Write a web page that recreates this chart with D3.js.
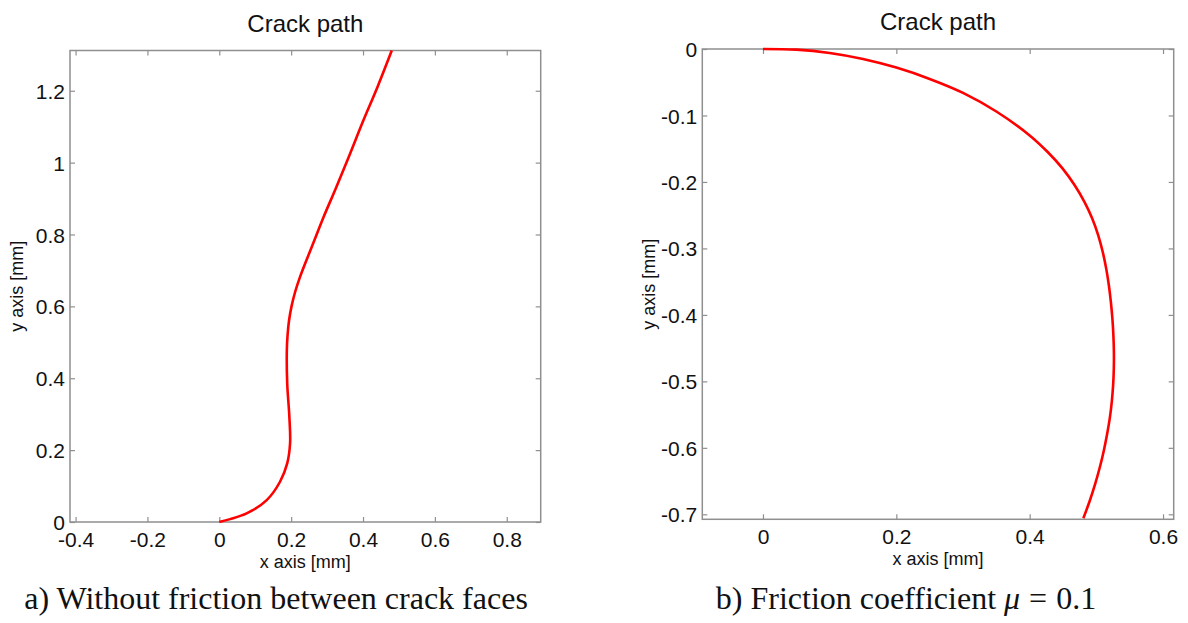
<!DOCTYPE html>
<html>
<head>
<meta charset="utf-8">
<script src="https://cdn.jsdelivr.net/npm/d3@7"></script>
<style>
  html, body { margin: 0; padding: 0; background: #fff; }
  svg { display: block; }
  .tick text { font-family: "Liberation Sans", Arial, sans-serif; fill: #111; }
</style>
</head>
<body>
<svg id="fig" width="1188" height="623"></svg>
<script>
// Crack path without friction between the crack faces (mm)
const pathAX = [0, 0.03, 0.076, 0.132, 0.169, 0.189, 0.197, 0.195, 0.189, 0.188, 0.190, 0.194, 0.201, 0.211, 0.224, 0.240, 0.260, 0.290, 0.325, 0.362, 0.400, 0.440, 0.480];
const pathAY = [0, 0.008, 0.024, 0.061, 0.112, 0.163, 0.219, 0.293, 0.386, 0.479, 0.520, 0.560, 0.600, 0.640, 0.680, 0.722, 0.772, 0.848, 0.930, 1.020, 1.115, 1.210, 1.312];

// Crack path with friction coefficient 0.1 (mm)
const pathBX = [0, 0.05, 0.10, 0.15, 0.20, 0.25, 0.30, 0.35, 0.400, 0.427, 0.4495, 0.4675, 0.4821, 0.4938, 0.5027, 0.5095, 0.5147, 0.5187, 0.5217, 0.5240, 0.5255, 0.5263,
                0.5262, 0.5252, 0.5232, 0.5202, 0.516, 0.511, 0.505, 0.498, 0.490, 0.4805];
const pathBY = [0, -0.001, -0.006, -0.015, -0.028, -0.045, -0.066, -0.094, -0.130, -0.155, -0.180, -0.205, -0.230, -0.255, -0.280, -0.305, -0.330, -0.355, -0.380, -0.405, -0.430, -0.455,
                -0.480, -0.505, -0.530, -0.555, -0.580, -0.605, -0.630, -0.655, -0.680, -0.706];

// Tick values
const ticksAX = [-0.4, -0.2, 0, 0.2, 0.4, 0.6, 0.8];
const ticksAY = [0, 0.2, 0.4, 0.6, 0.8, 1, 1.2];
const ticksBX = [0, 0.2, 0.4, 0.6];
const ticksBY = [0, -0.1, -0.2, -0.3, -0.4, -0.5, -0.6, -0.7];

const titles = ["Crack path", "Crack path"];
const xLabel = "x axis [mm]";
const yLabel = "y axis [mm]";

const svg = d3.select("#fig");
const fmt = d => String(+(+d).toFixed(1));
const boxColor = "#8f8f8f";

function panel(cfg) {
  const { left, right, top, bottom, xDomain, yDomain, xs, ys, xTicks, yTicks, title } = cfg;
  const x = d3.scaleLinear().domain(xDomain).range([left, right]);
  const y = d3.scaleLinear().domain(yDomain).range([bottom, top]);
  const g = svg.append("g");

  // inward ticks on all four sides (tick labels only on bottom and left)
  const styleAxis = sel => {
    sel.select(".domain").remove();
    sel.selectAll(".tick line").attr("stroke", boxColor).attr("stroke-width", 1.2);
  };
  const bottomAx = g.append("g").attr("transform", `translate(0,${bottom})`)
    .call(d3.axisBottom(x).tickValues(xTicks).tickSize(-5).tickFormat(fmt)).call(styleAxis);
  bottomAx.selectAll(".tick text").attr("y", 25).attr("dy", 0).attr("font-size", 21);
  g.append("g").attr("transform", `translate(0,${top})`)
    .call(d3.axisTop(x).tickValues(xTicks).tickSize(-5).tickFormat("")).call(styleAxis);
  const leftAx = g.append("g").attr("transform", `translate(${left},0)`)
    .call(d3.axisLeft(y).tickValues(yTicks).tickSize(-5).tickFormat(fmt)).call(styleAxis);
  leftAx.selectAll(".tick text").attr("x", -5).attr("dy", "0.36em").attr("font-size", 21);
  g.append("g").attr("transform", `translate(${right},0)`)
    .call(d3.axisRight(y).tickValues(yTicks).tickSize(-5).tickFormat("")).call(styleAxis);

  // axes box
  g.append("rect")
    .attr("x", left).attr("y", top)
    .attr("width", right - left).attr("height", bottom - top)
    .attr("fill", "none").attr("stroke", boxColor).attr("stroke-width", 1.5);

  // crack path
  const pts = xs.map((v, i) => [v, ys[i]]);
  g.append("path")
    .datum(pts)
    .attr("fill", "none")
    .attr("stroke", "#ff0000")
    .attr("stroke-width", 2.6)
    .attr("stroke-linejoin", "round")
    .attr("d", d3.line().x(d => x(d[0])).y(d => y(d[1])).curve(d3.curveCatmullRom.alpha(0.5)));

  const cx = (left + right) / 2, cy = (top + bottom) / 2;
  g.append("text")
    .attr("x", cx).attr("y", top - 19)
    .attr("text-anchor", "middle")
    .attr("font-family", "Liberation Sans, Arial, sans-serif")
    .attr("font-size", 24).attr("fill", "#111")
    .text(title);
  g.append("text")
    .attr("x", cx).attr("y", bottom + 46)
    .attr("text-anchor", "middle")
    .attr("font-family", "Liberation Sans, Arial, sans-serif")
    .attr("font-size", 18).attr("fill", "#111")
    .text(xLabel);
  g.append("text")
    .attr("transform", `translate(${left - 47},${cy}) rotate(-90)`)
    .attr("text-anchor", "middle")
    .attr("font-family", "Liberation Sans, Arial, sans-serif")
    .attr("font-size", 18).attr("fill", "#111")
    .text(yLabel);
}

panel({
  left: 70, right: 540.7, top: 50.5, bottom: 522,
  xDomain: [-0.4155, 0.8945], yDomain: [0, 1.312],
  xs: pathAX, ys: pathAY, xTicks: ticksAX, yTicks: ticksAY, title: titles[0]
});
panel({
  left: 702.3, right: 1173.7, top: 49, bottom: 519.3,
  xDomain: [-0.091, 0.616], yDomain: [-0.7075, 0],
  xs: pathBX, ys: pathBY, xTicks: ticksBX, yTicks: ticksBY, title: titles[1]
});

// sub-figure captions
const serif = "Liberation Serif, 'Times New Roman', serif";
svg.append("text")
  .attr("x", 276).attr("y", 609)
  .attr("text-anchor", "middle")
  .attr("font-family", serif).attr("font-size", 32).attr("fill", "#111")
  .text("a) Without friction between crack faces");
const capB = svg.append("text")
  .attr("x", 906).attr("y", 609)
  .attr("text-anchor", "middle")
  .attr("font-family", serif).attr("font-size", 32).attr("fill", "#111");
capB.append("tspan").text("b) Friction coefficient ");
capB.append("tspan").attr("font-style", "italic").text("μ");
capB.append("tspan").attr("dx", 9).text("=");
capB.append("tspan").attr("dx", 9).text("0.1");
</script>
</body>
</html>
